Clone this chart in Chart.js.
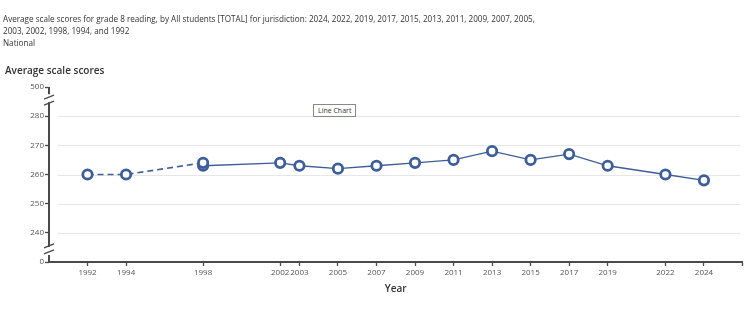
<!DOCTYPE html>
<html>
<head>
<meta charset="utf-8">
<script src="https://cdn.jsdelivr.net/npm/chart.js@4.4.1/dist/chart.umd.min.js"></script>
<style>
  body { margin: 0; background: #fff; font-family: "Open Sans", sans-serif; }
  #wrap { position: relative; width: 750px; height: 327px; overflow: hidden; }
  #grafico { position: absolute; left: 0; top: 0; }
  .cabecalho { position: absolute; left: 3px; top: 13px; font-size: 8.15px; line-height: 12px; color: #333; }
  .subtitulo { position: absolute; left: 5px; top: 63px; font-size: 10px; font-weight: 600; color: #333; }
  .caixa { position: absolute; left: 313px; top: 104px; font-size: 7px; color: #333; border: 1px solid #888; padding: 1px 4px; background: #fff; line-height: 9px; }
</style>
</head>
<body>
<div id="wrap">
  <canvas id="grafico" width="750" height="327"></canvas>
  <div class="cabecalho">Average scale scores for grade 8 reading, by All students [TOTAL] for jurisdiction: 2024, 2022, 2019, 2017, 2015, 2013, 2011, 2009, 2007, 2005,<br>2003, 2002, 1998, 1994, and 1992<br>National</div>
  <div class="subtitulo">Average scale scores</div>
  <div class="caixa">Line Chart</div>
</div>
<script>
// Dados
const anosTicks = [1992, 1994, 1998, 2002, 2003, 2005, 2007, 2009, 2011, 2013, 2015, 2017, 2019, 2022, 2024];

// acomodações não permitidas (tracejado)
const anosSemAcomod = [1992, 1994, 1998];
const notasSemAcomod = [260, 260, 264];

// acomodações permitidas (linha contínua)
const anosComAcomod = [1998, 2002, 2003, 2005, 2007, 2009, 2011, 2013, 2015, 2017, 2019, 2022, 2024];
const notasComAcomod = [263, 264, 263, 262, 263, 264, 265, 268, 265, 267, 263, 260, 258];

const yTicks = [230, 240, 250, 260, 270, 280, 290];
const yLabels = ["0", "240", "250", "260", "270", "280", "500"];
const gridValores = [240, 250, 260, 270, 280];

const azul = "#3d5d9b";
const eixo = "#4a4a4a";

// grade + eixo y quebrado
const eixoQuebrado = {
  id: "eixoQuebrado",
  beforeDatasetsDraw(chart) {
    const { ctx, chartArea, scales } = chart;
    const y = scales.y;
    ctx.save();
    ctx.strokeStyle = "#e6e6e6";
    ctx.lineWidth = 1;
    gridValores.forEach((v) => {
      const py = Math.round(y.getPixelForValue(v)) + 0.5;
      ctx.beginPath();
      ctx.moveTo(chartArea.left + 9, py);
      ctx.lineTo(chartArea.right - 2, py);
      ctx.stroke();
    });
    const x0 = chartArea.left;
    const topo = y.getPixelForValue(290);
    const q1 = y.getPixelForValue(285.5);
    const q2 = y.getPixelForValue(234.5);
    const base = y.getPixelForValue(230);
    ctx.strokeStyle = eixo;
    ctx.lineWidth = 2;
    ctx.beginPath();
    ctx.moveTo(x0, topo);
    ctx.lineTo(x0, q1 - 6);
    ctx.moveTo(x0, q1 + 2);
    ctx.lineTo(x0, q2 - 2);
    ctx.moveTo(x0, q2 + 6);
    ctx.lineTo(x0, base);
    ctx.stroke();
    ctx.lineWidth = 1.3;
    [q1, q2].forEach((q) => {
      ctx.beginPath();
      ctx.moveTo(x0 - 5, q - 1);
      ctx.lineTo(x0 + 5, q - 5);
      ctx.moveTo(x0 - 5, q + 5);
      ctx.lineTo(x0 + 5, q + 1);
      ctx.stroke();
    });
    ctx.restore();
  },
};

const ctx = document.getElementById("grafico").getContext("2d");

new Chart(ctx, {
  type: "line",
  data: {
    datasets: [
      {
        label: "Sem acomodações",
        data: anosSemAcomod.map((a, i) => ({ x: a, y: notasSemAcomod[i] })),
        borderColor: azul,
        borderWidth: 1.6,
        borderDash: [6, 4],
        pointRadius: 4.7,
        pointBorderWidth: 2.8,
        pointBackgroundColor: "#fff",
        pointBorderColor: azul,
        fill: false,
      },
      {
        label: "Com acomodações",
        data: anosComAcomod.map((a, i) => ({ x: a, y: notasComAcomod[i] })),
        borderColor: azul,
        borderWidth: 1.3,
        pointRadius: 4.7,
        pointBorderWidth: 2.8,
        pointBackgroundColor: "#fff",
        pointBorderColor: azul,
        fill: false,
      },
    ],
  },
  options: {
    responsive: false,
    animation: false,
    layout: { padding: { top: 87, right: 6, left: 0, bottom: 31 } },
    plugins: { legend: { display: false }, tooltip: { enabled: false } },
    scales: {
      x: {
        type: "linear",
        min: 1990,
        max: 2026,
        afterBuildTicks: (s) => {
          s.ticks = anosTicks.concat([2026]).map((v) => ({ value: v }));
        },
        afterFit: (s) => { s.height = 34; },
        ticks: {
          autoSkip: false,
          maxRotation: 0,
          padding: 2,
          color: "#555",
          font: { family: "Open Sans", size: 8 },
          callback: (v) => (anosTicks.includes(v) ? String(v) : ""),
        },
        grid: { drawOnChartArea: false, drawTicks: true, tickLength: 4, tickColor: eixo, tickWidth: 1.3 },
        border: { display: true, color: eixo, width: 2 },
        title: {
          display: true,
          text: "Year",
          color: "#333",
          font: { family: "Open Sans", size: 10, weight: "600" },
          padding: { top: 0, bottom: 1 },
        },
      },
      y: {
        min: 230,
        max: 290,
        afterBuildTicks: (s) => {
          s.ticks = yTicks.map((v) => ({ value: v }));
        },
        afterFit: (s) => { s.width = 49; },
        ticks: {
          autoSkip: false,
          padding: 1,
          color: "#555",
          font: { family: "Open Sans", size: 8 },
          callback: (v) => yLabels[yTicks.indexOf(v)],
        },
        grid: { drawOnChartArea: false, drawTicks: true, tickLength: 4, tickColor: eixo, tickWidth: 1.3 },
        border: { display: false },
      },
    },
  },
  plugins: [eixoQuebrado],
});
</script>
</body>
</html>
